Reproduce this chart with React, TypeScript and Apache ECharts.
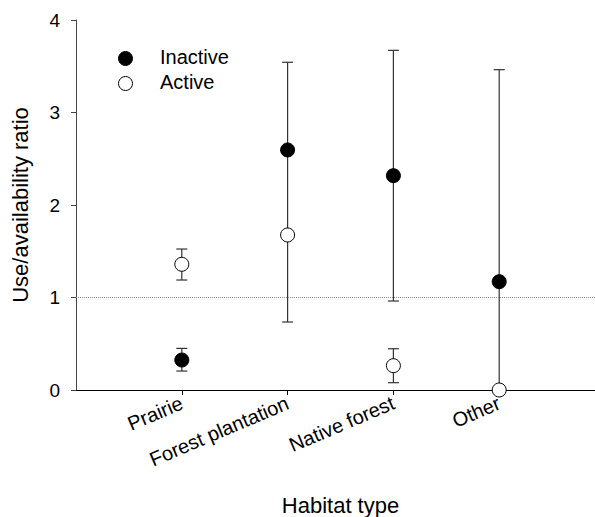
import React, { useEffect, useRef } from "react";
import * as echarts from "echarts";

const categories = ["Prairie", "Forest plantation", "Native forest", "Other"];
const inactiveValues = [0.324, 2.595, 2.317, 1.171];
const inactiveLow: (number | null)[] = [0.205, 0.735, 0.962, 0.0];
const inactiveHigh: (number | null)[] = [0.45, 3.543, 3.672, 3.463];
const activeValues = [1.359, 1.676, 0.263, 0.0];
const activeLow: (number | null)[] = [1.189, null, 0.079, null];
const activeHigh: (number | null)[] = [1.524, null, 0.446, null];
const yTicks = [0, 1, 2, 3, 4];
const referenceLine = 1;

const FONT = "Arial, 'Liberation Sans', Helvetica, sans-serif";

export default function App() {
  const ref = useRef<HTMLDivElement>(null);
  useEffect(() => {
    document.body.style.margin = "0";
    if (!ref.current) return;
    const chart = echarts.init(ref.current, undefined, { renderer: "svg" });

    const errData: number[][] = [];
    categories.forEach((_, i) => {
      if (inactiveLow[i] != null && inactiveHigh[i] != null)
        errData.push([i + 1, inactiveLow[i] as number, inactiveHigh[i] as number]);
      if (activeLow[i] != null && activeHigh[i] != null)
        errData.push([i + 1, activeLow[i] as number, activeHigh[i] as number]);
    });

    const capHalf = 5.5;
    const option: any = {
      animation: false,
      backgroundColor: "#fff",
      textStyle: { fontFamily: FONT, color: "#000" },
      grid: { left: 76, right: -10, top: 20, bottom: 127, containLabel: false, outerBoundsMode: "none" },
      xAxis: {
        type: "value",
        min: 0,
        max: 5,
        interval: 1,
        name: "Habitat type",
        nameLocation: "middle",
        nameGap: 104,
        nameTextStyle: { fontSize: 22, color: "#000", fontFamily: FONT },
        axisLine: { show: true, onZero: false, lineStyle: { color: "#000", width: 1 } },
        axisTick: { show: true, customValues: [1, 2, 3, 4], length: 5, lineStyle: { color: "#000" } },
        axisLabel: {
          customValues: [1, 2, 3, 4],
          rotate: 23,
          fontSize: 20,
          margin: 12,
          color: "#000",
          fontFamily: FONT,
          formatter: (v: number) => categories[Math.round(v) - 1] ?? "",
        },
        splitLine: { show: false },
      },
      yAxis: {
        type: "value",
        min: yTicks[0],
        max: yTicks[yTicks.length - 1],
        interval: 1,
        name: "Use/availability ratio",
        nameLocation: "middle",
        nameGap: 45,
        nameTextStyle: { fontSize: 22, color: "#000", fontFamily: FONT },
        axisLine: { show: true, lineStyle: { color: "#444", width: 1 } },
        axisTick: { show: true, length: 5, lineStyle: { color: "#444" } },
        axisLabel: { fontSize: 19, margin: 16, color: "#000", fontFamily: FONT },
        splitLine: { show: false },
      },
      graphic: [
        { type: "circle", left: 118, top: 51, shape: { r: 7 }, style: { fill: "#000", stroke: "#000" }, z: 100 },
        { type: "circle", left: 118, top: 76, shape: { r: 7 }, style: { fill: "#fff", stroke: "#000", lineWidth: 1 }, z: 100 },
        { type: "text", left: 160, top: 47, style: { text: "Inactive", fontSize: 20, fontFamily: FONT, fill: "#000" }, z: 100 },
        { type: "text", left: 160, top: 72, style: { text: "Active", fontSize: 20, fontFamily: FONT, fill: "#000" }, z: 100 },
      ],
      series: [
        {
          type: "custom",
          name: "errors",
          z: 2,
          data: errData,
          renderItem: (params: any, api: any) => {
            const x = api.value(0);
            const lo = api.coord([x, api.value(1)]);
            const hi = api.coord([x, api.value(2)]);
            const style = { stroke: "#333", lineWidth: 1.2 };
            return {
              type: "group",
              children: [
                { type: "line", shape: { x1: lo[0], y1: lo[1], x2: hi[0], y2: hi[1] }, style },
                { type: "line", shape: { x1: hi[0] - capHalf, y1: hi[1], x2: hi[0] + capHalf, y2: hi[1] }, style },
                { type: "line", shape: { x1: lo[0] - capHalf, y1: lo[1], x2: lo[0] + capHalf, y2: lo[1] }, style },
              ],
            };
          },
        },
        {
          type: "scatter",
          name: "Inactive",
          z: 5,
          symbol: "circle",
          symbolSize: 14,
          itemStyle: { color: "#000", borderColor: "#000", borderWidth: 1, opacity: 1 },
          data: inactiveValues.map((v, i) => [i + 1, v]),
          markLine: {
            silent: true,
            symbol: ["none", "none"],
            label: { show: false },
            lineStyle: { type: "dotted", color: "#888", width: 1 },
            data: [{ yAxis: referenceLine }],
          },
        },
        {
          type: "scatter",
          name: "Active",
          z: 6,
          symbol: "circle",
          symbolSize: 14,
          itemStyle: { color: "#fff", borderColor: "#000", borderWidth: 1, opacity: 1 },
          data: activeValues.map((v, i) => [i + 1, v]),
        },
      ],
    };
    chart.setOption(option);
    return () => chart.dispose();
  }, []);
  return <div ref={ref} style={{ width: 595, height: 517 }} />;
}
